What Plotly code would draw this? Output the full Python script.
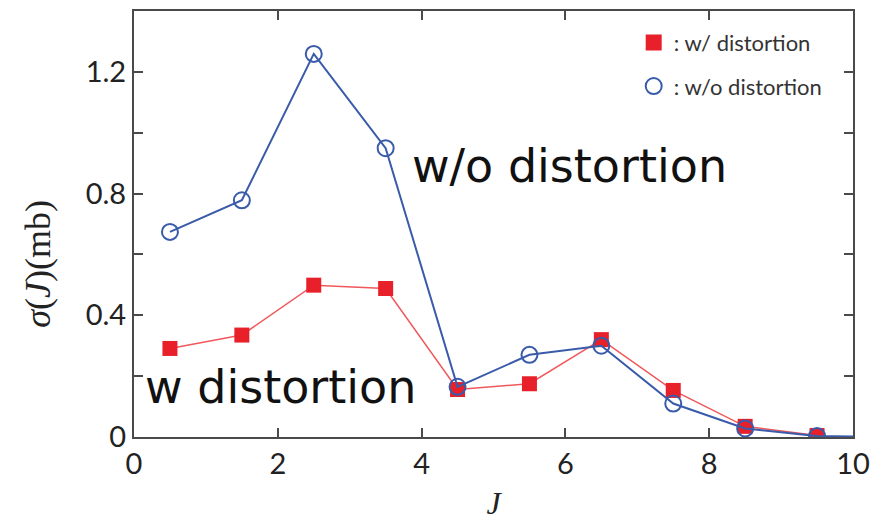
import plotly.graph_objects as go

J = [0.5, 1.5, 2.5, 3.5, 4.5, 5.5, 6.5, 7.5, 8.5, 9.5]
sigma_with = [0.291, 0.335, 0.499, 0.488, 0.156, 0.175, 0.320, 0.153, 0.035, 0.005]
J_wo = [0.5, 1.5, 2.5, 3.5, 4.5, 5.5, 6.5, 7.5, 8.5, 9.5, 10.5]
sigma_without = [0.674, 0.778, 1.259, 0.949, 0.165, 0.270, 0.300, 0.110, 0.028, 0.003, 0.0]

x_ticks = [0, 2, 4, 6, 8, 10]
y_ticks = [0, 0.2, 0.4, 0.6, 0.8, 1.0, 1.2]
y_ticktext = ["0", "", "0.4", "", "0.8", "", "1.2"]

RED = "#E8202A"
RED_LINE = "#F0585C"
BLUE = "#3A5BAA"
AX = "#4a4a4a"

fig = go.Figure()
fig.add_trace(go.Scatter(x=J, y=sigma_with, mode="lines+markers",
                         line=dict(color=RED_LINE, width=1.5),
                         marker=dict(symbol="square", size=15, color=RED),
                         showlegend=False))
fig.add_trace(go.Scatter(x=J_wo, y=sigma_without, mode="lines+markers",
                         line=dict(color=BLUE, width=2),
                         marker=dict(symbol="circle-open", size=16, color=BLUE, line=dict(width=2)),
                         showlegend=False))
# legend entries (markers only)
fig.add_trace(go.Scatter(x=[None], y=[None], mode="markers", name=": w/ distortion",
                         legendgroup="a",
                         marker=dict(symbol="square", size=16, color=RED)))
fig.add_trace(go.Scatter(x=[None], y=[None], mode="markers", name=": w/o distortion",
                         legendgroup="b",
                         marker=dict(symbol="circle-open", size=17, color=BLUE, line=dict(width=2))))

fig.add_annotation(x=3.84, y=0.889, xref="x", yref="y", text="w/o distortion",
                   showarrow=False, xanchor="left", yanchor="middle",
                   font=dict(family="DejaVu Sans", size=46, color="#111"))
fig.add_annotation(x=0.13, y=0.165, xref="x", yref="y", text="w distortion",
                   showarrow=False, xanchor="left", yanchor="middle",
                   font=dict(family="DejaVu Sans", size=46, color="#111"))
fig.add_annotation(x=-0.1335, y=0.4065, xref="paper", yref="paper",
                   text="<i>σ</i>(<i>J</i>)(mb)", textangle=-90, showarrow=False,
                   xanchor="center", yanchor="middle",
                   font=dict(family="Liberation Serif", size=36, color="#222"))

fig.update_layout(
    width=878, height=523,
    margin=dict(l=126, r=33, t=1, b=94),
    plot_bgcolor="white", paper_bgcolor="white",
    font=dict(family="Lato", color="#222"),
    legend=dict(x=0.695, y=0.975, xanchor="left", yanchor="top",
                font=dict(family="Lato", size=22, color="#333"),
                bgcolor="rgba(0,0,0,0)", itemwidth=30, tracegroupgap=12),
    xaxis=dict(range=[0, 10], tickvals=x_ticks, ticks="inside", ticklen=9, tickwidth=2,
               tickcolor=AX, showline=True, linecolor=AX, linewidth=2, mirror="ticks",
               showgrid=False, zeroline=False, tickfont=dict(family="Lato", size=29, color="#222"),
               title=dict(text="<i>J</i>", font=dict(family="Liberation Serif", size=32, color="#222"),
                          standoff=13)),
    yaxis=dict(range=[0, 1.4], tickvals=y_ticks, ticktext=y_ticktext, ticks="inside", ticklen=9,
               tickwidth=2, tickcolor=AX, showline=True, linecolor=AX, linewidth=2, mirror="ticks",
               showgrid=False, zeroline=False, tickfont=dict(family="Lato", size=29, color="#222")),
)

fig.write_html("out.html")
